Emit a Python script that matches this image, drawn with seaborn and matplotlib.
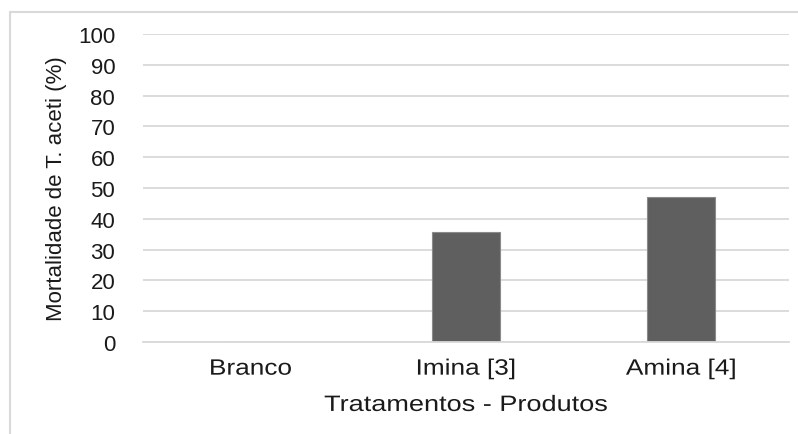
import matplotlib
matplotlib.use("Agg")
import matplotlib.pyplot as plt
import seaborn as sns
import pandas as pd
from matplotlib.patches import Rectangle
from matplotlib.patheffects import AbstractPathEffect
from matplotlib.transforms import Affine2D

categories = ["Branco", "Imina [3]", "Amina [4]"]
mortality = [0, 35.7, 47.0]
y_ticks = list(range(0, 101, 10))


class WideText(AbstractPathEffect):
    """Draw text widened horizontally about its own centre."""

    def __init__(self, sx):
        super().__init__()
        self.sx = sx

    def draw_path(self, renderer, gc, tpath, affine, rgbFace=None):
        bb = tpath.get_extents(affine)
        cx = 0.5 * (bb.x0 + bb.x1)
        stretched = affine + Affine2D().translate(-cx, 0).scale(self.sx, 1).translate(cx, 0)
        renderer.draw_path(gc, tpath, stretched, rgbFace)


sns.set_theme(style="white")
plt.rcParams["font.family"] = ["Liberation Sans", "DejaVu Sans"]

W, H = 798, 435
fig = plt.figure(figsize=(W / 100, H / 100), dpi=100)

# outer chart frame (runs off the right and bottom edges)
fig.patches.append(Rectangle((10 / W, -0.1), 1.2, (H - 13) / H + 0.1,
                             transform=fig.transFigure, fill=False,
                             edgecolor="#d9d9d9", linewidth=1.5))

left, right, top, bottom = 143, 789, 35, 343
ax = fig.add_axes([left / W, (H - bottom) / H, (right - left) / W, (bottom - top) / H])

df = pd.DataFrame({"Tratamento": categories, "Mortalidade": mortality})
sns.barplot(data=df, x="Tratamento", y="Mortalidade", ax=ax, width=0.315,
            color="#5f5f5f", edgecolor="#8a8a8a", linewidth=0.8, saturation=1)

text_color = "#1a1a1a"
ax.set_ylim(0, 100)
ax.set_xlim(-0.5, 2.5)
ax.set_yticks(y_ticks)
ax.set_yticklabels([str(t) for t in y_ticks], fontsize=16, color=text_color)
ax.yaxis.grid(True, color="#d9d9d9", linewidth=1.3)
ax.set_axisbelow(True)
for s in ["left", "top", "right"]:
    ax.spines[s].set_visible(False)
ax.spines["bottom"].set_color("#d9d9d9")
ax.spines["bottom"].set_linewidth(1.3)

ax.tick_params(axis="y", length=0, pad=20)
ax.tick_params(axis="x", which="major", length=0, labelsize=16, pad=12, labelcolor=text_color)
ax.set_xticks([-0.5, 0.5, 1.5, 2.5], minor=True)
ax.tick_params(axis="x", which="minor", length=6, width=1.3, color="#d9d9d9", direction="out")

wide = [WideText(1.18)]
for lbl in ax.get_xticklabels():
    lbl.set_path_effects(wide)

ax.set_xlabel("Tratamentos - Produtos", fontsize=16, color=text_color, labelpad=11,
              path_effects=[WideText(1.22)])
ax.set_ylabel("Mortalidade de T. aceti (%)", fontsize=16, color=text_color, labelpad=8)

fig.savefig("out.png", dpi=100)
